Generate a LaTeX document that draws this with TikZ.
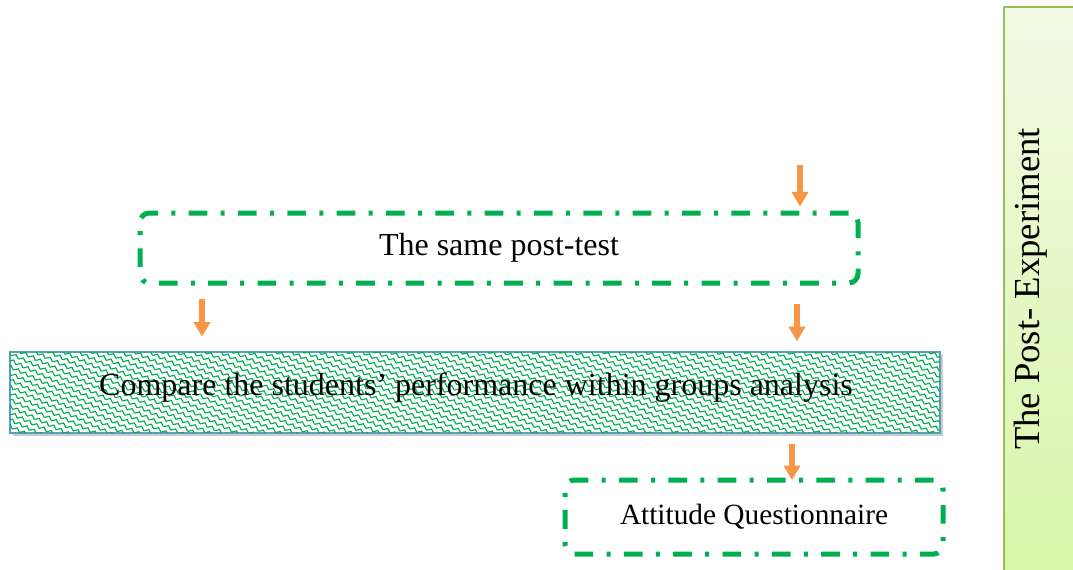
\documentclass[tikz,border=0pt]{standalone}
\usepackage{fontspec}
\setmainfont{Liberation Serif}
\usetikzlibrary{arrows.meta,patterns,patterns.meta,shadows}
\definecolor{dgreen}{HTML}{00B050}
\definecolor{arrorange}{HTML}{F79646}
\definecolor{hatchgreen}{HTML}{00B050}
\definecolor{cmpborder}{HTML}{5B9EBE}
\definecolor{sidetop}{HTML}{F1FBE4}
\definecolor{sidebot}{HTML}{D7F5A6}
\definecolor{sideborder}{HTML}{9BBB59}
\tikzdeclarepattern{
  name=zigzagpat,
  type=uncolored,
  bounding box={(-1pt,-1pt) and (7pt,5.5pt)},
  tile size={(6pt,4.5pt)},
  tile transformation={rotate=-25},
  code={\draw[line width=0.85pt] (0pt,0pt) -- (3pt,2.4pt) -- (6pt,0pt);}
}
\tikzset{
  dashbox/.style={draw=dgreen, line width=3.75pt, rounded corners=7pt,
    dash pattern=on 14pt off 10pt on 3pt off 10pt, fill=white},
  cmpbox/.style={draw=cmpborder, line width=0.9pt, fill=white,
    drop shadow={shadow xshift=2pt, shadow yshift=-2.5pt, opacity=0.4, fill=gray}},
  arr/.style={draw=arrorange, line width=4pt, -{Triangle[width=12pt,length=11pt]}}
}
\begin{document}
\begin{tikzpicture}[x=0.75pt,y=-0.75pt]
\useasboundingbox (0,0) rectangle (1073,569);
\begin{scope}
\clip (0,0) rectangle (1073,569);
% side band
\shade[top color=sidetop, bottom color=sidebot, draw=sideborder, line width=0.8pt]
  (1004,7) rectangle (1090,590);
\end{scope}
\node[rotate=90, font=\fontsize{27.5pt}{30pt}\selectfont] (side) at (1031,289) {The Post- Experiment};
% boxes
\node[dashbox, minimum width={718*0.75pt}, minimum height={70*0.75pt},
  font=\fontsize{24pt}{28pt}\selectfont] (p1) at (499,248) {The same post-test};
\node[cmpbox, minimum width={930*0.75pt}, minimum height={81*0.75pt}] (cmp) at (475,392.5) {};
\fill[pattern=zigzagpat, pattern color=hatchgreen] (cmp.north west) rectangle (cmp.south east);
\draw[draw=cmpborder, line width=0.9pt] (cmp.north west) rectangle (cmp.south east);
\node[font=\fontsize{24pt}{28pt}\selectfont] (cmptext) at (476,388) {Compare the students’ performance within groups analysis};
\node[dashbox, minimum width={378*0.75pt}, minimum height={74*0.75pt},
  font=\fontsize{22pt}{26pt}\selectfont] (att) at (754,517) {Attitude Questionnaire};
% arrows
\coordinate (a0) at (800,165);
\coordinate (xb) at (202,0);
\coordinate (xc) at (797,0);
\coordinate (xd) at (792,0);
\draw[arr, shorten >=3pt] (a0) -- (a0 |- p1.north);
\draw[arr, shorten <=10pt, shorten >=11pt] (p1.south -| xb) -- (cmp.north -| xb);
\draw[arr, shorten <=14pt, shorten >=7.5pt] (p1.south -| xc) -- (cmp.north -| xc);
\draw[arr, shorten <=8pt, shorten >=-2pt] (cmp.south -| xd) -- (att.north -| xd);
\end{tikzpicture}
\end{document}
